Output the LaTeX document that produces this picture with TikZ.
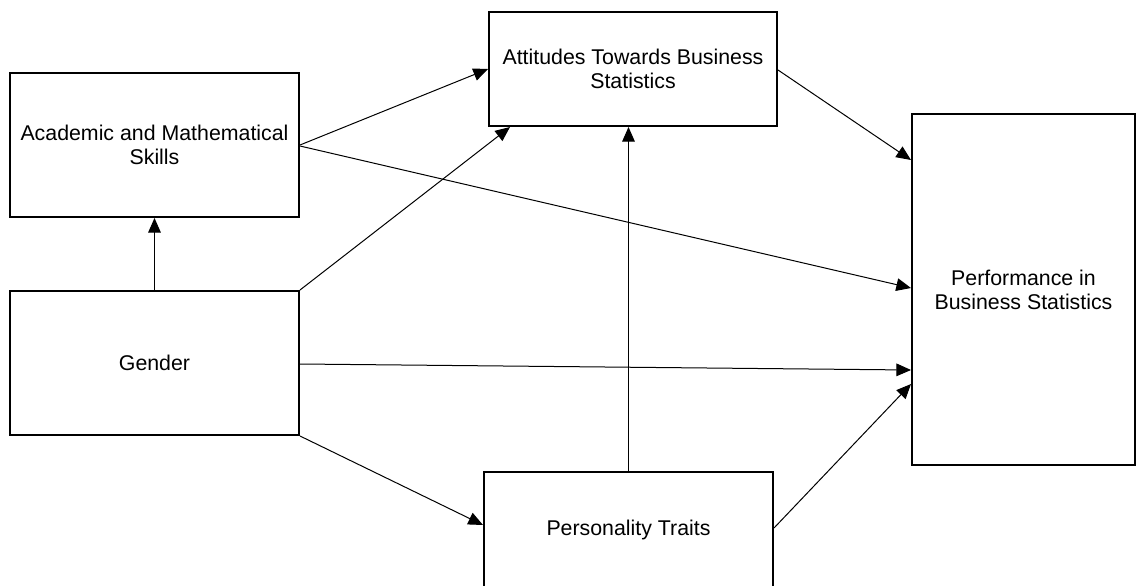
\documentclass[tikz,border=0pt]{standalone}
\usepackage{fontspec}
\setmainfont{Liberation Sans}
\usetikzlibrary{arrows.meta,calc}
\begin{document}
\begin{tikzpicture}[x=0.75pt,y=-0.75pt,
  box/.style={draw,line width=1.5pt,fill=white,align=center,inner sep=0pt,
    font=\fontsize{16}{18}\selectfont},
  link/.style={line width=0.75pt,-{Triangle[length=11pt,width=9.5pt]}}]
\useasboundingbox (0,0) rectangle (1137,585);
\node[box,minimum width=216.75pt,minimum height=108pt] (acad) at (154.5,145) {Academic and Mathematical\\Skills};
\node[box,minimum width=216pt,minimum height=85.5pt] (att) at (633,69) {Attitudes Towards Business\\Statistics};
\node[box,minimum width=167.25pt,minimum height=263.25pt] (perf) at (1023.5,289.5) {Performance in\\Business Statistics};
\node[box,minimum width=216.75pt,minimum height=108pt] (gender) at (154.5,363) {Gender};
\node[box,minimum width=216.75pt,minimum height=87pt] (pers) at (628.5,530) {Personality Traits};

\draw[link] (gender.north) -- (acad.south);
\draw[link] (acad.east) -- (att.west);
\draw[link] ($(acad.east)+(0,1)$) -- ($(perf.west)+(0,-1.5)$);
\draw[link] (gender.north east) -- ($(att.south west)+(22,0)$);
\draw[link] ($(gender.east)+(0,1)$) -- ($(perf.west)+(0,80.5)$);
\draw[link] (gender.south east) -- ($(pers.west)+(0,-5)$);
\draw[link] (pers.north) -- (pers.north |- att.south);
\draw[link] ($(pers.east)+(0,-2)$) -- ($(perf.west)+(0,94.5)$);
\draw[link] ($(att.east)+(0,1)$) -- ($(perf.west)+(0,-129.5)$);
\end{tikzpicture}
\end{document}
